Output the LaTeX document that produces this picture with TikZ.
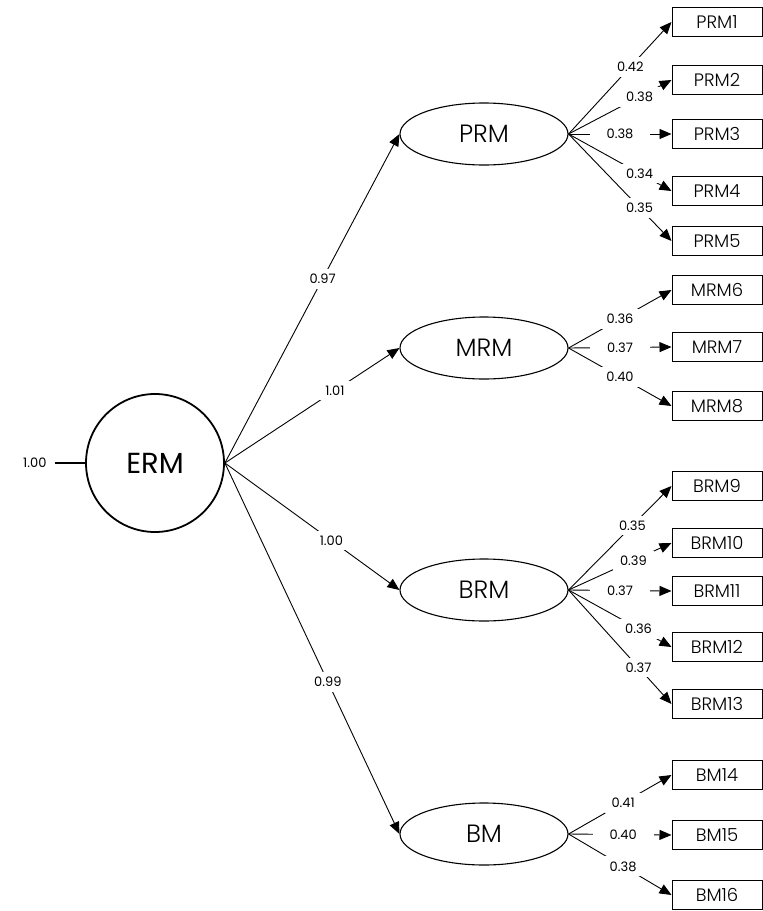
\documentclass[tikz,border=0pt]{standalone}
\usepackage{fontspec}
\setmainfont{Poppins}
\newfontfamily\lightfont{Poppins Light}
\usetikzlibrary{arrows.meta,shapes.geometric}

\tikzset{
  latent/.style={ellipse,draw,line width=1.1pt,minimum width=168pt,minimum height=62pt,
    inner sep=0pt,font=\lightfont\fontsize{25}{25}\selectfont},
  general/.style={circle,draw,line width=1.8pt,minimum size=138pt,inner sep=0pt,
    font=\fontsize{29}{29}\selectfont},
  item/.style={rectangle,draw,line width=1pt,minimum width=90pt,minimum height=29pt,
    inner sep=0pt,font=\lightfont\fontsize{18}{18}\selectfont},
  path/.style={line width=0.9pt,-{Triangle[length=12pt,width=10pt]}},
  coef/.style={fill=white,inner xsep=7pt,inner ysep=5pt,font=\fontsize{13}{13}\selectfont},
}

\begin{document}
\begin{tikzpicture}[x=1pt,y=-1pt]
\useasboundingbox (0,0) rectangle (763,911);

% second-order factor and its variance
\node[general] (erm) at (155,463) {ERM};
\coordinate (ev) at (55,463);
\node[anchor=east,font=\fontsize{13}{13}\selectfont] (evl) at (50,463) {1.00};
\draw[line width=1.1pt] (ev) -- (erm.west);

% first-order factors
\node[latent] (prm) at (484,134) {PRM};
\node[latent] (mrm) at (484,348) {MRM};
\node[latent] (brm) at (484,590) {BRM};
\node[latent] (bm)  at (484,834) {BM};

% observed items
\node[item] (p1) at (717,22)  {PRM1};
\node[item] (p2) at (717,80)  {PRM2};
\node[item] (p3) at (717,134) {PRM3};
\node[item] (p4) at (717,191) {PRM4};
\node[item] (p5) at (717,241) {PRM5};
\node[item] (m6) at (717,290) {MRM6};
\node[item] (m7) at (717,347) {MRM7};
\node[item] (m8) at (717,406) {MRM8};
\node[item] (b9)  at (717,486) {BRM9};
\node[item] (b10) at (717,543) {BRM10};
\node[item] (b11) at (717,591) {BRM11};
\node[item] (b12) at (717,647) {BRM12};
\node[item] (b13) at (717,704) {BRM13};
\node[item] (c14) at (717,775) {BM14};
\node[item] (c15) at (717,835) {BM15};
\node[item] (c16) at (717,895) {BM16};

% structural paths
\draw[path] (erm.east) -- node[coef,pos=0.56] {0.97} (prm.west);
\draw[path] (erm.east) -- node[coef,pos=0.63] {1.01} (mrm.west);
\draw[path] (erm.east) -- node[coef,pos=0.61] {1.00} (brm.west);
\draw[path] (erm.east) -- node[coef,pos=0.59] {0.99} (bm.west);

% loadings
\draw[path] (prm.east) -- node[coef,pos=0.6]  {0.42} (p1.west);
\draw[path] (prm.east) -- node[coef,pos=0.69] {0.38} (p2.west);
\draw[path] (prm.east) -- node[coef,pos=0.5,inner xsep=17pt] {0.38} (p3.west);
\draw[path] (prm.east) -- node[coef,pos=0.69] {0.34} (p4.west);
\draw[path] (prm.east) -- node[coef,pos=0.69] {0.35} (p5.west);

\draw[path] (mrm.east) -- node[coef,pos=0.5] {0.36} (m6.west);
\draw[path] (mrm.east) -- node[coef,pos=0.5,inner xsep=17pt] {0.37} (m7.west);
\draw[path] (mrm.east) -- node[coef,pos=0.5] {0.40} (m8.west);

\draw[path] (brm.east) -- node[coef,pos=0.62] {0.35} (b9.west);
\draw[path] (brm.east) -- node[coef,pos=0.63] {0.39} (b10.west);
\draw[path] (brm.east) -- node[coef,pos=0.5,inner xsep=17pt] {0.37} (b11.west);
\draw[path] (brm.east) -- node[coef,pos=0.68] {0.36} (b12.west);
\draw[path] (brm.east) -- node[coef,pos=0.68] {0.37} (b13.west);

\draw[path] (bm.east) -- node[coef,pos=0.53] {0.41} (c14.west);
\draw[path] (bm.east) -- node[coef,pos=0.53,inner xsep=17pt] {0.40} (c15.west);
\draw[path] (bm.east) -- node[coef,pos=0.53] {0.38} (c16.west);
\end{tikzpicture}
\end{document}
